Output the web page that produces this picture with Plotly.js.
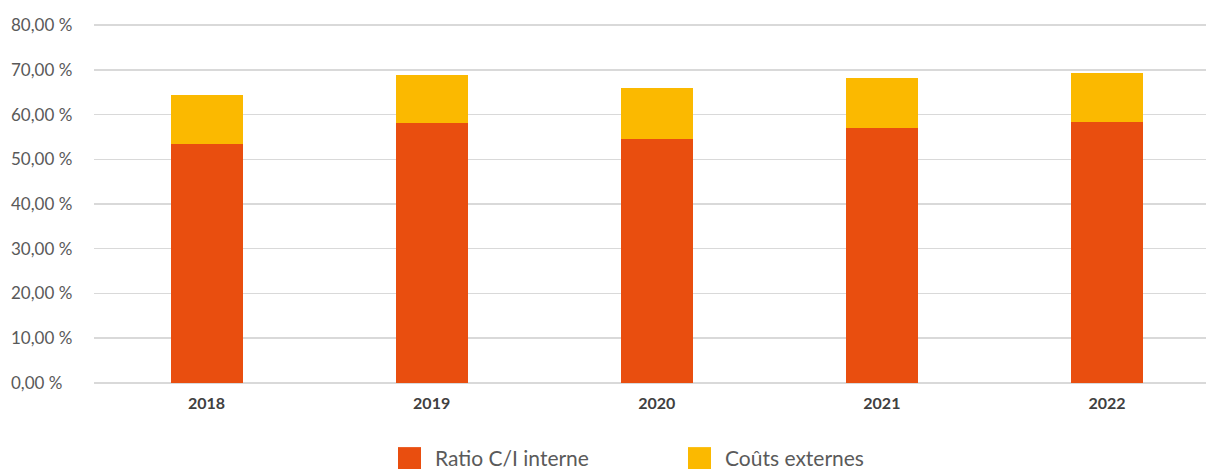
<!DOCTYPE html>
<html>
<head>
<meta charset="utf-8">
<script src="https://cdn.plot.ly/plotly-3.0.1.min.js"></script>
<style>
  html, body { margin: 0; padding: 0; background: #ffffff; }
  #chart { width: 1206px; height: 469px; }
</style>
</head>
<body>
<div id="chart"></div>
<script>
// ---- data ----
const years = ['2018', '2019', '2020', '2021', '2022'];
const ratioInterne = [53.4, 58.1, 54.5, 57.0, 58.3];
const coutsExternes = [11.0, 10.7, 11.4, 11.2, 11.0];
const seriesNames = ['Ratio C/I interne', 'Coûts externes'];
const seriesColors = ['#E94E0F', '#FBB900'];
const yTickVals = [0, 10, 20, 30, 40, 50, 60, 70, 80];
const yTickText = yTickVals.map(v => v.toFixed(2).replace('.', ',') + ' %');

const traces = [
  { type: 'bar', x: years, y: ratioInterne, name: seriesNames[0],
    marker: { color: seriesColors[0] }, width: 0.32, showlegend: false, hoverinfo: 'skip' },
  { type: 'bar', x: years, y: coutsExternes, name: seriesNames[1],
    marker: { color: seriesColors[1] }, width: 0.32, showlegend: false, hoverinfo: 'skip' }
];

// plot box geometry (pixels)
const W = 1206, H = 469;
const plotLeft = 94, plotRight = 1206;
const yPad = 2.5;                       // value units of invisible padding
const pxPerUnit = (382.7 - 25) / 80;
const plotTop = 25 - yPad * pxPerUnit;
const plotBottom = 382.7 + yPad * pxPerUnit;
const plotW = plotRight - plotLeft, plotH = plotBottom - plotTop;
const px2x = px => (px - plotLeft) / plotW;
const px2y = py => (plotBottom - py) / plotH;

// custom legend (large square swatches)
const legendX = [398, 688];
const shapes = [];
const annotations = [];
seriesNames.forEach((n, i) => {
  shapes.push({ type: 'rect', xref: 'paper', yref: 'paper',
    x0: px2x(legendX[i]), x1: px2x(legendX[i] + 23),
    y0: px2y(469), y1: px2y(447),
    fillcolor: seriesColors[i], line: { width: 0 } });
  annotations.push({ xref: 'paper', yref: 'paper',
    x: px2x(legendX[i] + 35), y: px2y(457),
    xanchor: 'left', yanchor: 'middle', showarrow: false, text: n,
    font: { family: 'Lato, sans-serif', size: 21, color: '#5a5a5a' } });
});

const layout = {
  width: W, height: H,
  margin: { l: plotLeft, r: W - plotRight, t: plotTop, b: H - plotBottom },
  paper_bgcolor: '#ffffff', plot_bgcolor: '#ffffff',
  barmode: 'stack',
  showlegend: false,
  xaxis: {
    type: 'category', range: [-0.5, 4.44],
    showgrid: false, zeroline: false, showline: false,
    ticks: '', ticklabelstandoff: -2,
    tickfont: { family: 'Lato, sans-serif', size: 16, color: '#404040', weight: 'bold' }
  },
  yaxis: {
    range: [-yPad, 80 + yPad], tickmode: 'array', tickvals: yTickVals, ticktext: yTickText,
    showgrid: true, gridcolor: '#d9d9d9', gridwidth: 1.5,
    zeroline: true, zerolinecolor: '#d9d9d9', zerolinewidth: 1.5,
    showline: false, ticks: '',
    ticklabelposition: 'inside', ticklabelstandoff: -86,
    tickfont: { family: 'Lato, sans-serif', size: 17, color: '#595959' }
  },
  shapes: shapes,
  annotations: annotations
};

Plotly.newPlot('chart', traces, layout, { displayModeBar: false, staticPlot: true });
</script>
</body>
</html>
